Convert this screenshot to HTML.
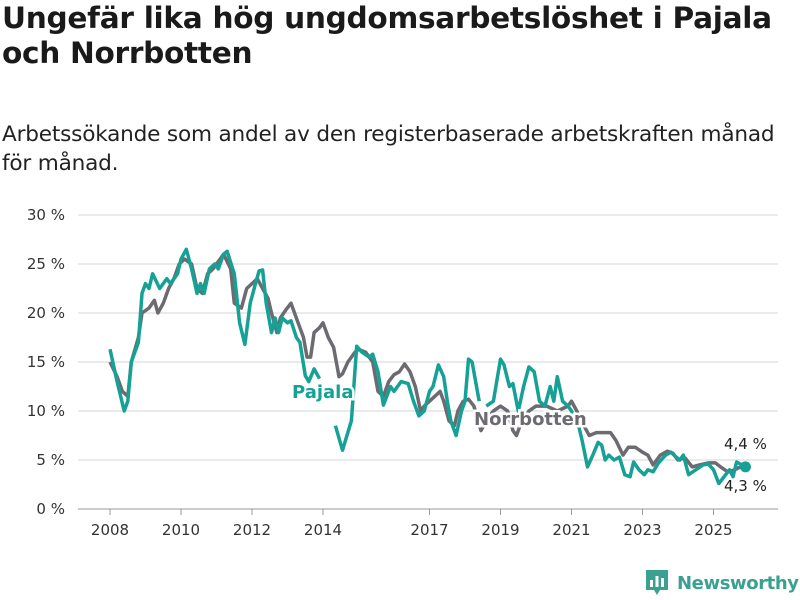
<!DOCTYPE html>
<html><head><meta charset="utf-8"><style>
body{margin:0;width:800px;height:600px;background:#fff;font-family:"Liberation Sans","DejaVu Sans",sans-serif;overflow:hidden;position:relative}
h1{position:absolute;left:2px;top:1px;margin:0;font-size:29.6px;line-height:35px;font-weight:bold;color:#1a1a1a;font-family:"DejaVu Sans",sans-serif;letter-spacing:-0.3px;white-space:nowrap}
.sub{position:absolute;left:2px;top:120px;font-size:21.6px;line-height:29px;color:#222;font-family:"DejaVu Sans",sans-serif;letter-spacing:-0.2px;white-space:nowrap}
svg{position:absolute;left:0;top:0}
</style></head><body>
<h1>Ungefär lika hög ungdomsarbetslöshet i Pajala<br>och Norrbotten</h1>
<div class="sub">Arbetssökande som andel av den registerbaserade arbetskraften månad<br>för månad.</div>
<svg id="chart" width="800" height="600"></svg>
<script>
const yTicks=[0,5,10,15,20,25,30];
const xTicks=[2008,2010,2012,2014,2017,2019,2021,2023,2025];
const pajalaDates=[2008.0,2008.2,2008.4,2008.5,2008.6,2008.8,2008.9,2009.0,2009.1,2009.2,2009.4,2009.6,2009.7,2009.9,2010.0,2010.15,2010.3,2010.45,2010.55,2010.65,2010.8,2010.95,2011.05,2011.2,2011.3,2011.5,2011.65,2011.8,2011.95,2012.1,2012.2,2012.3,2012.4,2012.55,2012.65,2012.75,2012.85,2013.0,2013.1,2013.25,2013.35,2013.5,2013.6,2013.75,2013.9,null,2014.35,2014.55,2014.8,2014.95,2015.1,2015.3,2015.4,2015.55,2015.7,2015.9,2016.0,2016.2,2016.4,2016.55,2016.7,2016.85,2017.0,2017.1,2017.25,2017.4,2017.5,2017.6,2017.75,2017.9,2018.0,2018.1,2018.2,2018.4,null,2018.6,2018.8,2019.0,2019.1,2019.25,2019.35,2019.5,2019.65,2019.8,2019.95,2020.1,2020.25,2020.4,2020.5,2020.6,2020.75,2020.9,2021.0,2021.2,2021.3,2021.45,2021.6,2021.75,2021.85,2021.95,2022.05,2022.2,2022.35,2022.5,2022.65,2022.75,2022.9,2023.05,2023.15,2023.3,2023.45,2023.65,2023.8,2023.95,2024.05,2024.15,2024.3,2024.5,2024.7,2024.85,2025.0,2025.15,2025.3,2025.45,2025.55,2025.65,2025.9];
const pajalaValues=[16.3,13,10,11,15,17,22,23,22.5,24,22.5,23.5,23,24,25.5,26.5,24.5,22,23,22,24.5,25,24.5,26,26.3,24,19,16.8,21,23,24.3,24.4,21,18,19.5,18,19.5,19,19.2,17.5,17,13.6,13,14.3,13.3,null,8.5,6,9,16.6,16,15.5,15.8,14,10.6,12.5,12,13,12.8,11,9.5,10,12,12.5,14.7,13.5,11,9,7.5,10,11,15.3,15,11,null,10.5,11,15.3,14.7,12.5,12.8,10,12.5,14.5,14,11,10.5,12.5,11,13.5,11,10.5,10,8.5,7,4.3,5.5,6.8,6.5,5,5.5,5,5.3,3.5,3.3,4.8,4,3.5,4,3.8,4.7,5.5,5.8,5.3,5,5.5,3.5,4,4.5,4.6,4,2.6,3.3,4,3.3,4.8,4.3];
const norrDates=[2008.0,2008.2,2008.35,2008.5,2008.6,2008.8,2008.9,2009.1,2009.25,2009.35,2009.5,2009.65,2009.8,2009.95,2010.1,2010.3,2010.45,2010.6,2010.75,2010.9,2011.0,2011.2,2011.4,2011.5,2011.7,2011.85,2012.0,2012.15,2012.3,2012.45,2012.55,2012.7,2012.8,2012.95,2013.1,2013.3,2013.45,2013.55,2013.65,2013.75,2013.9,2014.0,2014.15,2014.3,2014.45,2014.55,2014.7,2014.9,2015.0,2015.2,2015.4,2015.55,2015.7,2015.85,2016.0,2016.15,2016.3,2016.45,2016.6,2016.75,2016.85,2017.0,2017.15,2017.3,2017.4,2017.55,2017.7,2017.8,2017.95,2018.1,2018.25,2018.45,2018.6,2018.8,2019.0,2019.2,2019.35,2019.45,2019.6,2019.8,2020.0,2020.3,2020.6,2020.9,2021.0,2021.15,2021.35,2021.5,2021.7,2021.9,2022.1,2022.25,2022.45,2022.6,2022.8,2023.0,2023.15,2023.3,2023.5,2023.7,2023.85,2024.0,2024.2,2024.4,2024.6,2024.85,2025.05,2025.2,2025.4,2025.6,2025.7,2025.9];
const norrValues=[15,13.5,12,11.5,15,17.5,20,20.5,21.3,20,21,22.5,23.5,25,25.5,25,22.5,22,24,24.5,25,26,24.5,21,20.5,22.5,23,23.5,22.5,21.5,20,18,19.5,20.3,21,19,17.5,15.5,15.5,18,18.5,19,17.5,16.5,13.5,13.8,15,16,16.3,16,15,12,11.5,13,13.7,14,14.8,14,12.5,10,10.5,11,11.5,12,11,9,8.5,10,11,11.2,10.5,8,9,10,10.5,10,8,7.5,9,10,10.5,10.5,10,10.5,11,10,8.5,7.5,7.8,7.8,7.8,7,5.5,6.3,6.3,5.8,5.5,4.5,5.5,5.9,5.7,5,5.2,4.3,4.5,4.7,4.7,4.3,3.8,4,4.2,4.4];
const svg=document.getElementById('chart');const NS='http://www.w3.org/2000/svg';
const X=y=>110+(y-2008)*35.5, Y=v=>509-v*9.8;
function mk(t,a){const e=document.createElementNS(NS,t);for(const k in a)e.setAttribute(k,a[k]);svg.appendChild(e);return e;}
yTicks.forEach(v=>{
 const l=mk('line',{x1:78,x2:778,y1:Y(v),y2:Y(v),stroke:v==0?'#bbb':'#ddd','stroke-width':v==0?1.5:1.2});
 
 
 const t=mk('text',{x:65,y:Y(v)+5,'text-anchor':'end','font-size':15,fill:'#333','font-family':'DejaVu Sans,sans-serif'});
 t.textContent=v+' %';
 
 
});
xTicks.forEach(v=>{
 const l=mk('line',{x1:X(v),x2:X(v),y1:509,y2:515,stroke:'#999'});
 
 
 const t=mk('text',{x:X(v),y:535,'text-anchor':'middle','font-size':15,fill:'#333','font-family':'DejaVu Sans,sans-serif'});
 t.textContent=v;
 
 
});
function path(ds,vs){let d='',pen=false;ds.forEach((x,i)=>{if(x===null){pen=false;return;}d+=(pen?'L':'M')+X(x).toFixed(1)+','+Y(vs[i]).toFixed(1);pen=true;});return d;}
const pn=mk('path',{d:path(norrDates,norrValues),fill:'none',stroke:'#6d6b71','stroke-width':3.5,'stroke-linejoin':'round'});


const pp=mk('path',{d:path(pajalaDates,pajalaValues),fill:'none',stroke:'#16a196','stroke-width':3.5,'stroke-linejoin':'round'});


const li=pajalaDates.length-1;
const dot=mk('circle',{cx:X(pajalaDates[li]),cy:Y(pajalaValues[li]),r:5.5,fill:'#16a196'});


function lbl(txt,x,y,col,name,bold,size){const t=mk('text',{x:x,y:y,'font-size':size,'font-weight':bold?'bold':'normal',fill:col,stroke:'#fff','stroke-width':bold?5:3,'paint-order':'stroke','font-family':'DejaVu Sans,sans-serif'});t.textContent=txt;}
lbl('Pajala',292,398,'#16a196','pajala-label',true,18);
lbl('Norrbotten',474,425,'#6d6b71','norrbotten-label',true,18);
lbl('4,4 %',724,449,'#222','norrbotten-end-value',false,15);
lbl('4,3 %',724,491,'#222','pajala-end-value',false,15);
</script>
<div style="position:absolute;left:645px;top:569px;display:flex;align-items:center">
 <svg width="24" height="28" style="position:relative" viewBox="0 0 24 28"><path d="M1 1h22v20h-8l-3 5-3-5H1z" fill="#3aa191"/><rect x="5" y="11" width="3" height="7" fill="#fff"/><rect x="10.5" y="7" width="3" height="11" fill="#fff"/><rect x="16" y="9" width="3" height="9" fill="#fff"/></svg>
 <span style="margin-left:8px;font-size:18px;color:#3aa191;font-weight:bold;font-family:'DejaVu Sans',sans-serif;letter-spacing:-0.4px">Newsworthy</span>
</div>
</body></html>
